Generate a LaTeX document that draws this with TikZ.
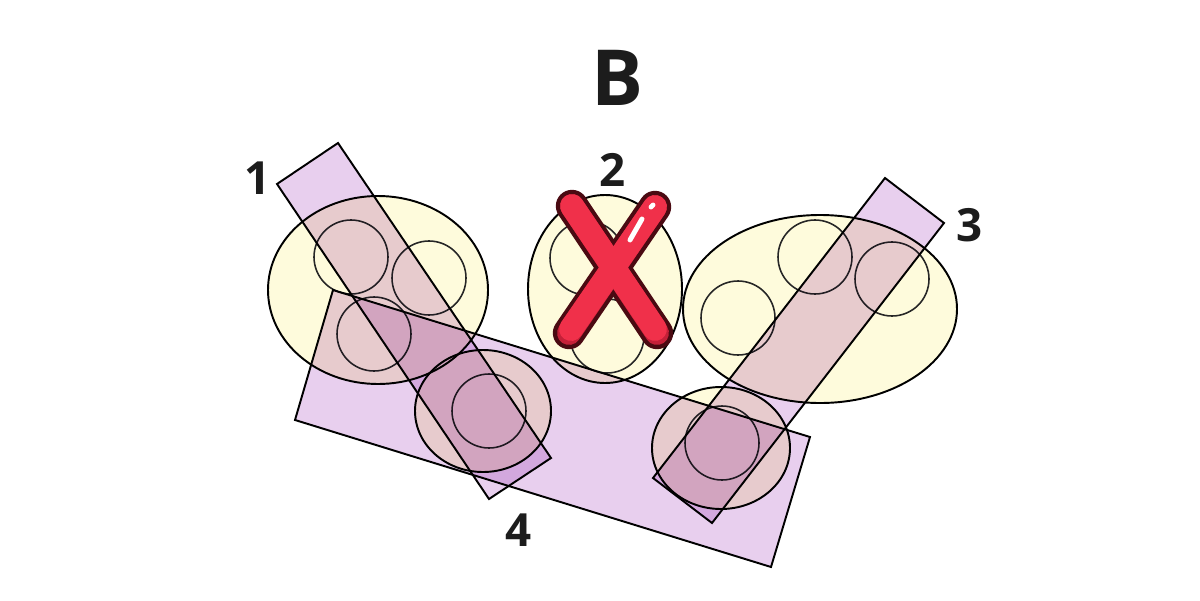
\documentclass[tikz,border=0pt]{standalone}
\usepackage{fontspec}
\setmainfont{Open Sans}
\definecolor{cream}{HTML}{FEFBDC}
\definecolor{lilac}{HTML}{E8CFEE}
\definecolor{ink}{HTML}{1C1C1C}
\definecolor{xred}{HTML}{F0304A}
\definecolor{xshade}{HTML}{C42038}
\definecolor{xdark}{HTML}{4A0A12}
\tikzset{
  grp/.style={fill=cream},
  rim/.style={draw=black, line width=.55pt},
  item/.style={draw=black!85, line width=.45pt},
  band/.style={fill=lilac, draw=black, line width=.55pt},
  num/.style={font=\bfseries\fontsize{13}{13}\selectfont, text=ink},
  crossout/.style={line cap=round, line width=9.2pt, draw=xdark},
  crossin/.style={line cap=round, line width=6.8pt, draw=xred},
  crossshade/.style={crossin, draw=xshade},
}
\begin{document}
\begin{tikzpicture}[x=0.01cm, y=-0.01cm]
  \fill[white] (0,0) rectangle (1200,600);
  \useasboundingbox (0,0) rectangle (1200,600);
  % groups
  \fill[grp] (378,290) ellipse [x radius=110, y radius=94];
  \fill[grp] (605,289) ellipse [x radius=77, y radius=94];
  \fill[grp] (820,309) ellipse [x radius=137, y radius=94];
  \fill[grp] (483,411) ellipse [x radius=68, y radius=61];
  \fill[grp] (721,448) ellipse [x radius=69, y radius=61];
  \draw[rim] (378,290) ellipse [x radius=110, y radius=94];
  \draw[rim] (605,289) ellipse [x radius=77, y radius=94];
  \draw[rim] (820,309) ellipse [x radius=137, y radius=94];
  \draw[rim] (483,411) ellipse [x radius=68, y radius=61];
  \draw[rim] (721,448) ellipse [x radius=69, y radius=61];
  % items
  \foreach \p in {(351,257),(429,278),(374,334),(489,411),(587,258),(607,336),
                  (738,318),(815,257),(892,279),(722,443)}{
    \draw[item] \p circle [radius=37];
  }
  % bands
  \begin{scope}[blend mode=multiply]
    \draw[band] (277,184) -- (338,143) -- (551,458) -- (489,499) -- cycle;
    \draw[band] (333,290) -- (810,437) -- (771,567) -- (295,420) -- cycle;
    \draw[band] (885,178) -- (944,223) -- (712,523) -- (653,478) -- cycle;
  \end{scope}
  % cross on group 2
  \draw[crossout] (572,206) -- (657,333);
  \draw[crossout] (655,207) -- (569,333);
  \draw[crossshade] (572,206) -- (657,333);
  \draw[crossshade] (655,207) -- (569,333);
  \draw[crossin] (572,206) -- (655,329);
  \draw[crossin] (655,207) -- (571,329);
  \draw[white, line width=1.4pt, line cap=round] (630,240) -- (642,219);
  \draw[white, line width=1.4pt, line cap=round] (651,207) -- (653,205);
  % labels
  \node[text=ink, font=\bfseries\fontsize{22}{22}\selectfont] (lblB) at (617,78) {B};
  \node[num] (lbl1) at (258,178) {1};
  \node[num] (lbl2) at (613,170) {2};
  \node[num] (lbl3) at (970,225) {3};
  \node[num] (lbl4) at (519,530) {4};
\end{tikzpicture}
\end{document}
